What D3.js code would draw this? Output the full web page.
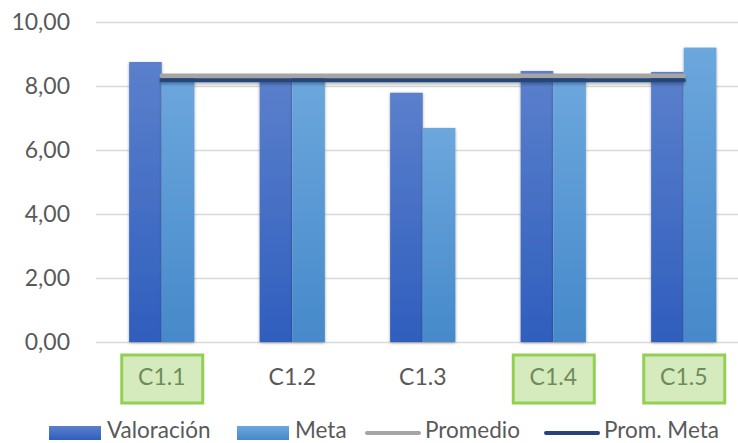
<!DOCTYPE html>
<html>
<head>
<meta charset="utf-8">
<script src="https://cdn.jsdelivr.net/npm/d3@7"></script>
<style>
  html, body { margin: 0; padding: 0; background: #fff; }
  svg { display: block; font-family: Lato, "Noto Sans", sans-serif; }
</style>
</head>
<body>
<svg id="chart" width="738" height="443"></svg>
<script>
// Categories and series
const categories = ["C1.1", "C1.2", "C1.3", "C1.4", "C1.5"];
const valoracion = [8.75, 8.20, 7.79, 8.47, 8.44];
const meta       = [8.26, 8.26, 6.69, 8.25, 9.20];
const promedio   = [8.32, 8.32, 8.32, 8.32, 8.32];
const promMeta   = [8.18, 8.18, 8.18, 8.18, 8.18];
const yTicks = [0, 2, 4, 6, 8, 10];
const highlighted = ["C1.1", "C1.4", "C1.5"];
const seriesNames = ["Valoración", "Meta", "Promedio", "Prom. Meta"];

const svg = d3.select("#chart");
const fmt = v => d3.format(".2f")(v).replace(".", ",");

const x = d3.scaleBand().domain(categories).range([96.5, 749]).padding(0);
const y = d3.scaleLinear().domain([0, 10]).range([342, 22]);
const sub = d3.scaleBand().domain(["v", "m"]).range([0, x.bandwidth() * 0.5]);
const cx = c => x(c) + x.bandwidth() / 2;

// defs: gradients and shadows
const defs = svg.append("defs");
function grad(id, top, bottom) {
  const g = defs.append("linearGradient").attr("id", id)
    .attr("x1", 0).attr("y1", 0).attr("x2", 0).attr("y2", 1);
  g.append("stop").attr("offset", "0%").attr("stop-color", top);
  g.append("stop").attr("offset", "100%").attr("stop-color", bottom);
}
grad("gV", "#5B80CC", "#2F5EBD");
grad("gM", "#6CA7DD", "#4689CA");

const glow = defs.append("filter").attr("id", "glow")
  .attr("x", "-30%").attr("y", "-10%").attr("width", "160%").attr("height", "120%");
glow.append("feDropShadow").attr("dx", 0).attr("dy", 1).attr("stdDeviation", 1.6)
  .attr("flood-color", "#000").attr("flood-opacity", 0.35);

// horizontal strokes have a zero-height bbox, so the shadow region is set in user space
const lshadow = defs.append("filter").attr("id", "lshadow")
  .attr("filterUnits", "userSpaceOnUse")
  .attr("x", 0).attr("y", 0).attr("width", 738).attr("height", 443);
lshadow.append("feDropShadow").attr("dx", 0).attr("dy", 2).attr("stdDeviation", 1.5)
  .attr("flood-color", "#000").attr("flood-opacity", 0.3);

// gridlines
const yAxis = d3.axisLeft(y).tickValues(yTicks).tickSize(-(749 - 96)).tickFormat(fmt).tickPadding(26);
const gy = svg.append("g").attr("transform", "translate(96,0)").call(yAxis);
gy.select(".domain").remove();
gy.selectAll(".tick line").attr("stroke", "#D9D9D9").attr("stroke-width", 1.5);
gy.selectAll(".tick text").attr("fill", "#595959").style("font-size", "23px")
  .attr("font-family", "Lato, sans-serif");

// bars
const bars = svg.append("g");
bars.selectAll("rect.v").data(categories).join("rect").attr("class", "v")
  .attr("x", (c) => cx(c) - x.bandwidth() * 0.25 + sub("v"))
  .attr("width", sub.bandwidth())
  .attr("y", (c, i) => y(valoracion[i]))
  .attr("height", (c, i) => y(0) - y(valoracion[i]))
  .attr("fill", "url(#gV)").attr("filter", "url(#glow)");
bars.selectAll("rect.m").data(categories).join("rect").attr("class", "m")
  .attr("x", (c) => cx(c) - x.bandwidth() * 0.25 + sub("m"))
  .attr("width", sub.bandwidth())
  .attr("y", (c, i) => y(meta[i]))
  .attr("height", (c, i) => y(0) - y(meta[i]))
  .attr("fill", "url(#gM)").attr("filter", "url(#glow)");

// average lines
const line = d3.line().x(d => cx(d.c)).y(d => y(d.v));
svg.append("path")
  .datum(categories.map((c, i) => ({ c, v: promedio[i] })))
  .attr("d", line).attr("fill", "none").attr("stroke", "#A5A5A5")
  .attr("stroke-width", 4.5).attr("stroke-linecap", "round").attr("filter", "url(#lshadow)");
svg.append("path")
  .datum(categories.map((c, i) => ({ c, v: promMeta[i] })))
  .attr("d", line).attr("fill", "none").attr("stroke", "#264478")
  .attr("stroke-width", 4).attr("stroke-linecap", "round").attr("filter", "url(#lshadow)");

// category labels
const xl = svg.append("g");
categories.forEach(c => {
  const hl = highlighted.includes(c);
  const g = xl.append("g").attr("transform", `translate(${cx(c)},377)`);
  if (hl) {
    g.append("rect").attr("x", -40).attr("y", -22).attr("width", 81).attr("height", 48)
      .attr("fill", "#D5EBBE").attr("stroke", "#92D050").attr("stroke-width", 3);
  }
  g.append("text").text(c).attr("text-anchor", "middle").attr("dy", "0.36em")
    .attr("fill", hl ? "#6E8C59" : "#595959").style("font-size", "23px")
    .attr("font-family", "Lato, sans-serif");
});

// legend
const leg = svg.append("g").attr("font-family", "Lato, sans-serif");
const legItems = [
  { name: seriesNames[0], kind: "bar", fill: "url(#gV)", x0: 49 },
  { name: seriesNames[1], kind: "bar", fill: "url(#gM)", x0: 237 },
  { name: seriesNames[2], kind: "line", stroke: "#A5A5A5", x0: 367 },
  { name: seriesNames[3], kind: "line", stroke: "#264478", x0: 546 }
];
legItems.forEach(it => {
  if (it.kind === "bar") {
    leg.append("rect").attr("x", it.x0).attr("y", 426).attr("width", 52).attr("height", 14)
      .attr("fill", it.fill);
  } else {
    leg.append("line").attr("x1", it.x0).attr("x2", it.x0 + 52).attr("y1", 433).attr("y2", 433)
      .attr("stroke", it.stroke).attr("stroke-width", 4).attr("stroke-linecap", "round");
  }
  leg.append("text").attr("x", it.x0 + 58).attr("y", 438)
    .attr("fill", "#595959").style("font-size", "22.5px").text(it.name);
});
</script>
</body>
</html>
